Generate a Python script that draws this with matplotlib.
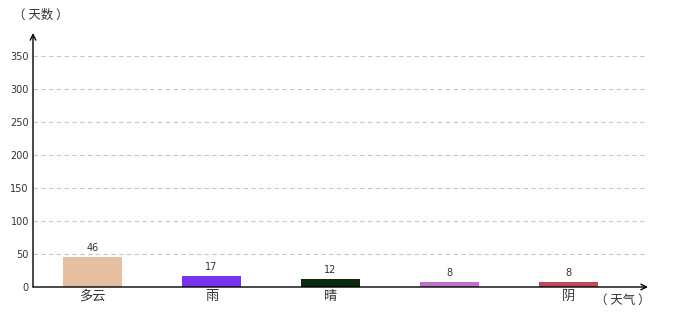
import matplotlib
matplotlib.use('Agg')
import matplotlib.pyplot as plt

plt.rcParams['font.family'] = ['Noto Sans CJK SC', 'DejaVu Sans']

# data
weather = ['多云', '雨', '晴', '', '阴']
days = [46, 17, 12, 8, 8]
colors = ['#E6BFA0', '#7733EE', '#0B2A0B', '#C070C8', '#C04A5C']
yticks = [0, 50, 100, 150, 200, 250, 300, 350]

fig = plt.figure(figsize=(6.8, 3.2), dpi=100)
ax = fig.add_axes([33 / 680, 33 / 320, 615 / 680, 254 / 320])

x = list(range(len(weather)))
bars = ax.bar(x, days, width=0.5, color=colors, zorder=3)
for b, v in zip(bars, days):
    ax.text(b.get_x() + b.get_width() / 2, v + 6, str(v), ha='center', va='bottom',
            fontsize=7, color='#333333', family='DejaVu Sans')

ax.set_xlim(-0.5, 4.67)
ax.set_ylim(0, 385)
ax.set_yticks(yticks)
ax.set_xticks(x)
ax.set_xticklabels(weather, fontsize=9.5, color='#333333')
ax.tick_params(axis='y', length=0, labelsize=7, colors='#333333', pad=3)
ax.tick_params(axis='x', length=0, pad=2)
for t in ax.get_yticklabels():
    t.set_family('DejaVu Sans')

for yv in yticks[1:]:
    ax.plot([-0.5, 4.64], [yv, yv], color='#c8c8c8', lw=0.8, ls=(0, (4, 3)), zorder=1)

for s in ['top', 'right', 'left', 'bottom']:
    ax.spines[s].set_visible(False)

# axes with arrows
ax.annotate('', xy=(4.67, 0), xytext=(-0.5, 0),
            arrowprops=dict(arrowstyle='->', color='black', lw=1.0,
                            shrinkA=0, shrinkB=0), annotation_clip=False)
ax.annotate('', xy=(-0.5, 385), xytext=(-0.5, 0),
            arrowprops=dict(arrowstyle='->', color='black', lw=1.0,
                            shrinkA=0, shrinkB=0), annotation_clip=False)

fig.text(41 / 680, 1 - 15 / 320, '（ 天数 ）', ha='center', va='center', fontsize=9, color='#333333')
fig.text(623 / 680, 1 - 300 / 320, '（ 天气 ）', ha='center', va='center', fontsize=9, color='#333333')

fig.savefig('out.png', dpi=100)
